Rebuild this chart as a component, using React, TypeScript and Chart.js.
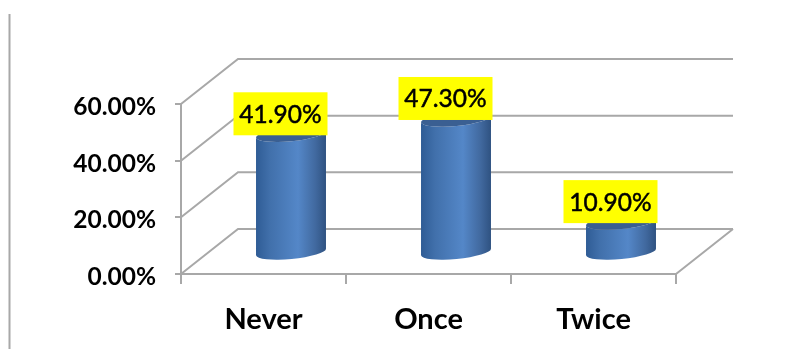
import React, { useEffect, useRef } from "react";
import { Chart, registerables } from "chart.js";

Chart.register(...registerables);

const categories = ["Never", "Once", "Twice"];
const shares = [41.9, 47.3, 10.9];
const axisTicks = [0, 20, 40, 60];

const GRID = "#a8a8a8";
const FONT = "Lato, Carlito, Calibri, sans-serif";
// Oblique projection of the back wall relative to the front plane.
const WALL_DX = 57;
const WALL_DY = -45;
// Where the columns stand on the floor, relative to the front plane.
const BAR_DX = 27.5;
const BAR_DY = -21;
const LABEL_DX = -10.5;

const bodyGradient = (ctx: CanvasRenderingContext2D, l: number, r: number) => {
  const g = ctx.createLinearGradient(l, 0, r, 0);
  g.addColorStop(0, "#2f5c95");
  g.addColorStop(0.2, "#4170ab");
  g.addColorStop(0.6, "#5487c8");
  g.addColorStop(0.85, "#41699f");
  g.addColorStop(1, "#2f5281");
  return g;
};

// Floor, back wall and the diagonals joining them to the front plane.
const wallPlugin = {
  id: "wall",
  beforeDatasetsDraw(chart: any) {
    const { ctx, scales } = chart;
    const { left, right } = chart.chartArea;
    ctx.save();
    ctx.strokeStyle = GRID;
    ctx.lineWidth = 2;
    ctx.beginPath();
    // Rule running down the left side of the page
    ctx.moveTo(9.5, 14);
    ctx.lineTo(9.5, 349);
    for (const v of axisTicks) {
      const y = scales.y.getPixelForValue(v);
      ctx.moveTo(left, y);
      ctx.lineTo(left + WALL_DX, y + WALL_DY);
      ctx.lineTo(right + WALL_DX, y + WALL_DY);
    }
    const floor = scales.y.getPixelForValue(0);
    ctx.moveTo(right, floor);
    ctx.lineTo(right + WALL_DX, floor + WALL_DY);
    ctx.stroke();
    ctx.restore();
  },
};

// Renders each bar element as a shaded cylinder with a yellow value label above it.
const cylinderPlugin = {
  id: "cylinder",
  afterDatasetsDraw(chart: any) {
    const { ctx } = chart;
    const meta = chart.getDatasetMeta(0);
    const tilt = -0.095;
    const ry = 7;
    meta.data.forEach((bar: any, i: number) => {
      const { x, y, base, width } = bar.getProps(["x", "y", "base", "width"], true);
      const cx = x + BAR_DX;
      const top = y + BAR_DY;
      const bottom = base + BAR_DY;
      const half = width / 2;
      const rx = half / Math.cos(tilt);
      const rise = rx * Math.sin(tilt);
      const fill = bodyGradient(ctx, cx - half, cx + half);

      ctx.save();
      ctx.beginPath();
      ctx.moveTo(cx - half, top - rise);
      ctx.lineTo(cx - half, bottom - rise);
      ctx.ellipse(cx, bottom, rx, ry, tilt, Math.PI, 0, true);
      ctx.lineTo(cx + half, top + rise);
      ctx.ellipse(cx, top, rx, ry, tilt, 0, Math.PI, false);
      ctx.closePath();
      ctx.fillStyle = fill;
      ctx.fill();

      ctx.beginPath();
      ctx.ellipse(cx, top, rx, ry, tilt, 0, Math.PI * 2);
      ctx.fillStyle = "#3a5f92";
      ctx.fill();

      const boxW = 94;
      const boxH = 43;
      const bx = cx + LABEL_DX - boxW / 2;
      const by = top - boxH + 1;
      ctx.fillStyle = "#ffff00";
      ctx.fillRect(bx, by, boxW, boxH);
      ctx.fillStyle = "#000000";
      ctx.strokeStyle = "#000000";
      ctx.lineWidth = 0.5;
      ctx.font = `400 24.5px ${FONT}`;
      ctx.textAlign = "center";
      ctx.textBaseline = "middle";
      const text = `${shares[i].toFixed(2)}%`;
      ctx.fillText(text, cx + LABEL_DX, by + boxH / 2 + 1);
      ctx.strokeText(text, cx + LABEL_DX, by + boxH / 2 + 1);
      ctx.restore();
    });
  },
};

export default function App() {
  const ref = useRef<HTMLCanvasElement>(null);

  useEffect(() => {
    document.body.style.margin = "0";
    const chart = new Chart(ref.current!, {
      type: "bar",
      data: {
        labels: categories,
        datasets: [
          {
            data: shares,
            backgroundColor: "rgba(0,0,0,0)",
            borderWidth: 0,
            barPercentage: 0.424,
            categoryPercentage: 1,
          },
        ],
      },
      options: {
        animation: false,
        responsive: false,
        layout: { padding: { left: 10, right: 124, top: 104, bottom: 0 } },
        plugins: { legend: { display: false }, tooltip: { enabled: false }, title: { display: false } },
        scales: {
          x: {
            afterFit: (s: any) => {
              s.height = 75;
            },
            border: { display: true, color: GRID, width: 2 },
            grid: { drawOnChartArea: false, drawTicks: true, tickLength: 10, color: GRID, lineWidth: 2 },
            ticks: {
              color: "#000000",
              padding: 18,
              maxRotation: 0,
              font: { family: FONT, size: 29, weight: "bold" },
            },
          },
          y: {
            min: 0,
            max: 60,
            afterFit: (s: any) => {
              s.width = 171;
            },
            border: { display: true, color: GRID, width: 2 },
            grid: { drawOnChartArea: false, drawTicks: true, tickLength: 6, color: GRID, lineWidth: 2 },
            ticks: {
              stepSize: 20,
              color: "#000000",
              padding: 19,
              labelOffset: 3,
              font: { family: FONT, size: 24.5, weight: "bold" },
              callback: (v: any) => `${Number(v).toFixed(2)}%`,
            },
          },
        },
      },
      plugins: [wallPlugin, cylinderPlugin],
    } as any);
    return () => chart.destroy();
  }, []);

  return (
    <div style={{ width: 800, height: 349, background: "#ffffff" }}>
      <canvas ref={ref} width={800} height={349} style={{ display: "block" }} />
    </div>
  );
}
